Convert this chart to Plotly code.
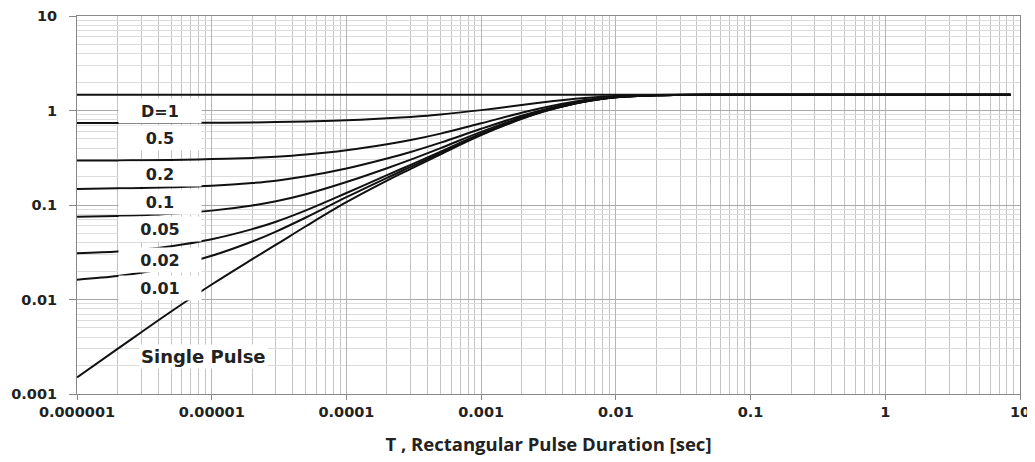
import plotly.graph_objects as go

pulse_t = [1e-6, 2e-6, 3e-6, 5e-6, 1e-5, 2e-5, 3e-5, 5e-5, 1e-4, 2e-4, 3e-4, 5e-4,
           1e-3, 2e-3, 3e-3, 5e-3, 7e-3, 1e-2, 2e-2, 3e-2, 5e-2, 0.1, 1, 8.5]

# Normalised transient thermal impedance for each duty cycle D
z_single = [0.0015, 0.003, 0.0045, 0.00746, 0.0144, 0.0267, 0.038, 0.0596, 0.107, 0.181, 0.241, 0.344,
            0.548, 0.815, 0.986, 1.186, 1.294, 1.38, 1.449, 1.462, 1.47, 1.47, 1.47, 1.47]
z_d001 = [0.0162, 0.0177, 0.0192, 0.0221, 0.0290, 0.0411, 0.0523, 0.0737, 0.121, 0.194, 0.253, 0.355,
          0.557, 0.822, 0.991, 1.189, 1.296, 1.381, 1.449, 1.462, 1.47, 1.47, 1.47, 1.47]
z_d002 = [0.0309, 0.0323, 0.0338, 0.0367, 0.0435, 0.0556, 0.0666, 0.0878, 0.134, 0.207, 0.266, 0.367,
          0.567, 0.828, 0.996, 1.192, 1.298, 1.382, 1.449, 1.462, 1.47, 1.47, 1.47, 1.47]
z_d005 = [0.0749, 0.0764, 0.0778, 0.0806, 0.0872, 0.0989, 0.1096, 0.130, 0.175, 0.245, 0.302, 0.400,
          0.594, 0.848, 1.010, 1.200, 1.303, 1.385, 1.450, 1.462, 1.47, 1.47, 1.47, 1.47]
z_d01 = [0.148, 0.150, 0.151, 0.154, 0.160, 0.171, 0.181, 0.201, 0.243, 0.310, 0.364, 0.457,
         0.640, 0.881, 1.034, 1.214, 1.312, 1.389, 1.451, 1.463, 1.47, 1.47, 1.47, 1.47]
z_d02 = [0.295, 0.296, 0.298, 0.300, 0.306, 0.315, 0.324, 0.342, 0.380, 0.439, 0.487, 0.569,
         0.732, 0.946, 1.083, 1.243, 1.329, 1.398, 1.453, 1.464, 1.47, 1.47, 1.47, 1.47]
z_d05 = [0.736, 0.737, 0.737, 0.739, 0.742, 0.748, 0.754, 0.765, 0.789, 0.826, 0.856, 0.907,
         1.009, 1.143, 1.228, 1.328, 1.382, 1.425, 1.460, 1.466, 1.47, 1.47, 1.47, 1.47]
z_d1 = [1.47, 1.47, 1.47, 1.47, 1.47, 1.47, 1.47, 1.47, 1.47, 1.47, 1.47, 1.47,
        1.47, 1.47, 1.47, 1.47, 1.47, 1.47, 1.47, 1.47, 1.47, 1.47, 1.47, 1.47]

curve_labels = ["D=1", "0.5", "0.2", "0.1", "0.05", "0.02", "0.01"]
x_ticks = [1e-6, 1e-5, 1e-4, 1e-3, 1e-2, 0.1, 1, 10]
x_ticktext = ["0.000001", "0.00001", "0.0001", "0.001", "0.01", "0.1", "1", "10"]
y_ticks = [0.001, 0.01, 0.1, 1, 10]
y_ticktext = ["0.001", "0.01", "0.1", "1", "10"]

LABEL_FONT = dict(family="DejaVu Sans", size=16, color="#222222", weight="bold")
TICK_FONT = dict(family="DejaVu Sans", size=14.5, color="#222222", weight="bold")

fig = go.Figure()

for z in [z_single, z_d001, z_d002, z_d005, z_d01, z_d02, z_d05, z_d1]:
    fig.add_trace(go.Scatter(x=pulse_t, y=z, mode="lines",
                             line=dict(color="#111111", width=2, shape="spline", smoothing=1.0),
                             showlegend=False, hoverinfo="skip"))

# minor grid positions 2..9 in every decade
minor_x = [m * 10.0 ** e for e in range(-6, 1) for m in range(2, 10)]
minor_y = [m * 10.0 ** e for e in range(-3, 1) for m in range(2, 10)]

# white label boxes (annotation coordinates are log10 on log axes)
label_y = [0.0, -0.286, -0.667, -0.963, -1.259, -1.587, -1.873]
for txt, ly in zip(curve_labels, label_y):
    fig.add_annotation(x=-5.384, y=ly, text=txt, showarrow=False, font=LABEL_FONT,
                       bgcolor="white", width=80, height=22, xref="x", yref="y")
fig.add_annotation(x=-5.06, y=-2.60, text="Single Pulse", showarrow=False,
                   font=dict(LABEL_FONT, size=18),
                   bgcolor="white", xref="x", yref="y")

fig.update_xaxes(type="log", range=[-6, 1], tickmode="array", tickvals=x_ticks, ticktext=x_ticktext,
                 tickfont=TICK_FONT, ticks="outside", ticklen=5, tickcolor="#888888",
                 ticklabeloverflow="allow", automargin=False,
                 showline=True, linecolor="#888888", linewidth=1, mirror=True,
                 showgrid=True, gridcolor="#b5b5b5", gridwidth=1, zeroline=False,
                 minor=dict(tickmode="array", tickvals=minor_x, showgrid=True,
                            gridcolor="#c4c4c4", gridwidth=1, ticks=""),
                 title=dict(text="T , Rectangular Pulse Duration [sec]",
                            font=dict(family="Open Sans", size=18.5, color="#222222", weight="bold"),
                            standoff=18))
fig.update_yaxes(type="log", range=[-3, 1], tickmode="array", tickvals=y_ticks, ticktext=y_ticktext,
                 tickfont=TICK_FONT, ticks="outside", ticklen=7, tickcolor="#888888",
                 ticklabelstandoff=9, automargin=False,
                 showline=True, linecolor="#888888", linewidth=1, mirror=True,
                 showgrid=True, gridcolor="#a8a8a8", gridwidth=1, zeroline=False,
                 minor=dict(tickmode="array", tickvals=minor_y, showgrid=True,
                            gridcolor="#dcdcdc", gridwidth=1, ticks=""))

# page body adds an 8px margin, so the figure is 8px smaller and shifted
fig.update_layout(width=1027, height=454, plot_bgcolor="white", paper_bgcolor="white",
                  margin=dict(l=69, r=15, t=8, b=68), showlegend=False)

fig.write_html("out.html")
